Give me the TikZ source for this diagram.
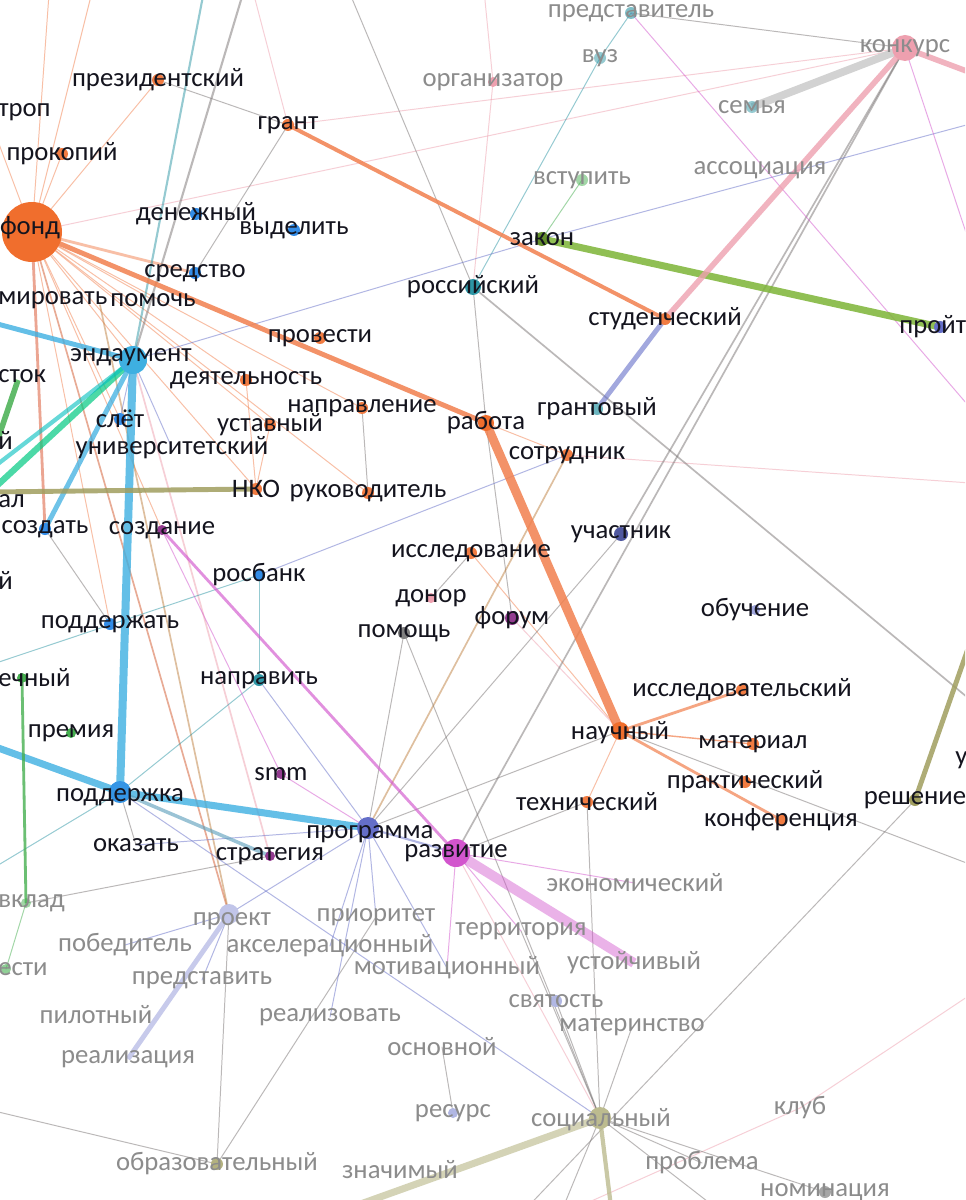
\documentclass[tikz,border=0pt]{standalone}
\usepackage{fontspec}
\setmainfont{Carlito}
\usetikzlibrary{calc}

\definecolor{fondor}{RGB}{240,110,45}
\definecolor{edgeor}{RGB}{242,128,78}
\definecolor{endblue}{RGB}{62,175,225}
\definecolor{tealc}{RGB}{45,150,165}
\definecolor{zgreen}{RGB}{125,180,55}
\definecolor{lgreen}{RGB}{70,175,80}
\definecolor{mag}{RGB}{210,85,205}
\definecolor{konk}{RGB}{238,160,175}
\definecolor{olivec}{RGB}{160,158,95}
\definecolor{progblue}{RGB}{100,110,200}
\definecolor{greyc}{RGB}{120,115,115}
\definecolor{txtgray}{RGB}{140,140,140}
\definecolor{txtdark}{RGB}{20,20,30}

\def\wdot[#1](#2)(#3){\fill[#1] (#2) circle (#3);}

\tikzset{
  word/.style={text=txtdark, font=\fontsize{19}{19}\selectfont, inner sep=0pt},
  faded/.style={word, text=txtgray},
  frag/.style={word, anchor=west},
  lnk/.style={line cap=round, line width=0.7pt, opacity=0.5},
  orl/.style={lnk, draw=edgeor},
  pkl/.style={lnk, draw=konk},
  gyl/.style={lnk, draw=greyc},
  tel/.style={lnk, draw=tealc},
  pul/.style={lnk, draw=progblue},
  mgl/.style={lnk, draw=mag},
}

\begin{document}
\begin{tikzpicture}[x=0.025cm, y=-0.025cm]
\useasboundingbox (0,0) rectangle (965,1200);
\clip (0,0) rectangle (965,1200);
\fill[white] (0,0) rectangle (965,1200);

%%%%% words %%%%%
\coordinate (prezident) at (158,80);
\coordinate (prokopiy) at (62,154);
\coordinate (fond) at (32,232);
\coordinate (grant) at (288,125);
\coordinate (denezhny) at (196,214);
\coordinate (vydelit) at (294,230);
\coordinate (sredstvo) at (195,273);
\coordinate (mirovat) at (100,305);
\coordinate (pomoch) at (153,300);
\coordinate (endaument) at (133,360);
\coordinate (stok) at (18,380);
\coordinate (deyatelnost) at (246,380);
\coordinate (provesti) at (320,338);
\coordinate (napravlenie) at (362,408);
\coordinate (ustavny) at (270,425);
\coordinate (slet) at (120,419);
\coordinate (universitet) at (172,448);
\coordinate (nko) at (256,489);
\coordinate (rukovoditel) at (368,493);
\coordinate (sozdat) at (45,529);
\coordinate (sozdanie) at (162,530);
\coordinate (rosbank) at (259,575);
\coordinate (podderzhat) at (110,624);
\coordinate (echny) at (22,678);
\coordinate (napravit) at (259,680);
\coordinate (premiya) at (71,733);
\coordinate (smm) at (281,774);
\coordinate (podderzhka) at (120,792);
\coordinate (okazat) at (136,845);
\coordinate (strategiya) at (270,856);
\coordinate (programma) at (368,828);
\coordinate (razvitie) at (456,853);
\coordinate (rossiysky) at (473,287);
\coordinate (zakon) at (542,239);
\coordinate (studench) at (665,319);
\coordinate (rabota) at (486,423);
\coordinate (grantovy) at (597,409);
\coordinate (sotrudnik) at (567,455);
\coordinate (issledovanie) at (471,553);
\coordinate (uchastnik) at (621,534);
\coordinate (donor) at (431,598);
\coordinate (forum) at (512,618);
\coordinate (pomosch) at (404,633);
\coordinate (obuchenie) at (755,610);
\coordinate (issledovatel) at (742,690);
\coordinate (nauchny) at (620,731);
\coordinate (material) at (753,744);
\coordinate (praktich) at (745,782);
\coordinate (tehnich) at (587,802);
\coordinate (konferenc) at (781,820);
\coordinate (reshenie) at (915,800);
\coordinate (proyti) at (940,327);
\coordinate (predstavitel) at (631,13);
\coordinate (vuz) at (600,58);
\coordinate (organizator) at (493,82);
\coordinate (konkurs) at (905,48);
\coordinate (semya) at (752,107);
\coordinate (vstupit) at (582,180);
\coordinate (associaciya) at (760,170);
\coordinate (ekonomich) at (635,883);
\coordinate (vklad) at (26,903);
\coordinate (proekt) at (229,914);
\coordinate (prioritet) at (376,917);
\coordinate (territoriya) at (521,931);
\coordinate (pobeditel) at (125,945);
\coordinate (akseler) at (330,946);
\coordinate (esti) at (6,969);
\coordinate (predstavit) at (202,980);
\coordinate (motivac) at (447,968);
\coordinate (ustoychivy) at (634,963);
\coordinate (svyatost) at (556,1001);
\coordinate (materinstvo) at (632,1027);
\coordinate (pilotny) at (96,1015);
\coordinate (realizovat) at (330,1017);
\coordinate (osnovnoy) at (442,1047);
\coordinate (realizaciya) at (128,1059);
\coordinate (resurs) at (453,1113);
\coordinate (socialny) at (600,1118);
\coordinate (klub) at (800,1108);
\coordinate (obrazovat) at (217,1164);
\coordinate (znachimy) at (400,1170);
\coordinate (problema) at (702,1163);
\coordinate (nominaciya) at (825,1192);

% ends beyond the frame
\coordinate (oL1) at (-10,322);
\coordinate (oL2) at (-10,492);
\coordinate (oL3) at (-10,745);
\coordinate (oL4) at (-10,870);
\coordinate (oL5) at (-10,665);
\coordinate (oL6) at (-10,1110);
\coordinate (oL7) at (-10,120);
\coordinate (oL8) at (-10,470);
\coordinate (oL9) at (-10,462);
\coordinate (oT1) at (250,-30);
\coordinate (oT2) at (208,-30);
\coordinate (oT3) at (95,-20);
\coordinate (oT4) at (50,-20);
\coordinate (oT5) at (340,-30);
\coordinate (oT6) at (483,-20);
\coordinate (oT7) at (250,-20);
\coordinate (oR1) at (985,600);
\coordinate (oR2) at (985,712);
\coordinate (oR3) at (985,484);
\coordinate (oR4) at (985,120);
\coordinate (oR5) at (985,78);
\coordinate (oR6) at (985,290);
\coordinate (oR7) at (985,425);
\coordinate (oR8) at (985,985);
\coordinate (oR9) at (985,870);
\coordinate (oB1) at (520,1215);
\coordinate (oB2) at (330,1215);
\coordinate (oB3) at (612,1215);
\coordinate (oB4) at (725,1215);
\coordinate (oB5) at (560,1215);

%%%%% thin links %%%%%
\draw[orl] (fond) -- (prezident);
\draw[orl] (fond) -- (prokopiy);
\draw[orl] (fond) -- (oT3);
\draw[orl] (fond) -- (oT4);
\draw[orl] (fond) -- (oL7);
\draw[orl] (fond) -- (deyatelnost);
\draw[orl] (fond) -- (ustavny);
\draw[orl] (fond) -- (nko);
\draw[orl] (fond) -- (sozdanie);
\draw[orl] (fond) -- (rukovoditel);
\draw[orl] (fond) -- (napravlenie);
\draw[orl] (fond) -- (endaument);
\draw[orl] (fond) -- (pomoch);
\draw[orl] (fond) -- (podderzhat);
\draw[orl] (fond) -- (slet);
\draw[orl, line width=2pt] (fond) -- (sredstvo);
\draw[orl, draw=brown!70!red, line width=1.2pt] (fond) -- (proekt);
\draw[orl, draw=brown!60!red, line width=2pt] (fond) -- (sozdat);
\draw[orl] (rabota) -- (sotrudnik);
\draw[orl] (nauchny) -- (issledovanie);
\draw[orl] (nauchny) -- (tehnich);
\draw[orl] (nko) -- (deyatelnost);
\draw[orl] (nko) -- (ustavny);
\draw[pkl] (fond) -- (konkurs);
\draw[pkl] (grant) -- (konkurs);
\draw[pkl] (grant) -- (oT7);
\draw[pkl] (organizator) -- (oT6);
\draw[pkl] (organizator) -- (rossiysky);
\draw[pkl, line width=1.2pt] (endaument) -- (strategiya);
\draw[pkl] (razvitie) -- (socialny);
\draw[pkl] (nauchny) -- (forum);
\draw[pkl] (sotrudnik) -- (oR3);
\draw[pkl] (klub) -- (oR8);
\draw[pkl] (klub) -- (oB5);
\draw[gyl, line width=1.5pt] (endaument) -- (oT1);
\draw[gyl] (prezident) -- (grant);
\draw[gyl] (grant) -- (sredstvo);
\draw[gyl] (rossiysky) -- (oT5);
\draw[gyl] (rossiysky) -- (rabota);
\draw[gyl, line width=1.2pt] (rossiysky) -- (oR2);
\draw[gyl, line width=1.2pt] (konkurs) -- (uchastnik);
\draw[gyl, line width=1.2pt] (konkurs) -- (razvitie);
\draw[gyl] (predstavitel) -- (konkurs);
\draw[gyl] (uchastnik) -- (programma);
\draw[gyl] (rabota) -- (forum);
\draw[gyl, draw=brown, line width=1.2pt] (programma) -- (sotrudnik);
\draw[gyl, draw=brown, line width=1.2pt] (mirovat) -- (proekt);
\draw[gyl] (pomosch) -- (socialny);
\draw[gyl] (socialny) -- (tehnich);
\draw[gyl] (reshenie) -- (oB1);
\draw[gyl] (nauchny) -- (programma);
\draw[gyl] (nauchny) -- (oR9);
\draw[gyl] (tehnich) -- (razvitie);
\draw[gyl] (proekt) -- (obrazovat);
\draw[gyl] (obrazovat) -- (prioritet);
\draw[gyl] (obrazovat) -- (oL6);
\draw[gyl] (vklad) -- (strategiya);
\draw[gyl] (resurs) -- (osnovnoy);
\draw[gyl] (socialny) -- (problema);
\draw[gyl] (socialny) -- (nominaciya);
\draw[gyl] (socialny) -- (oB4);
\draw[gyl] (socialny) -- (oB5);
\draw[gyl] (socialny) -- (svyatost);
\draw[gyl] (socialny) -- (materinstvo);
\draw[gyl] (socialny) -- (territoriya);
\draw[gyl] (podderzhka) -- (okazat);
\draw[gyl] (sozdat) -- (podderzhat);
\draw[gyl] (rukovoditel) -- (napravlenie);
\draw[gyl] (issledovanie) -- (donor);
\draw[gyl] (pomosch) -- (programma);
\draw[tel] (vuz) -- (rossiysky);
\draw[tel] (predstavitel) -- (vuz);
\draw[tel, line width=1.5pt] (endaument) -- (oT2);
\draw[tel] (podderzhka) -- (napravit);
\draw[tel] (podderzhka) -- (oL4);
\draw[tel] (rosbank) -- (oL5);
\draw[tel] (rosbank) -- (napravit);
\draw[pul] (rosbank) -- (sotrudnik);
\draw[pul] (endaument) -- (zakon);
\draw[pul] (zakon) -- (oR4);
\draw[pul, draw=mag] (predstavitel) -- (oR7);
\draw[pul, draw=mag] (konkurs) -- (oR6);
\draw[pul] (napravit) -- (programma);
\draw[pul] (socialny) -- (podderzhka);
\draw[mgl] (sozdanie) -- (smm);
\draw[mgl] (smm) -- (programma);
\draw[lnk, draw=lgreen] (vstupit) -- (zakon);
\draw[lnk, draw=lgreen] (vklad) -- (esti);
\draw[pul] (programma) -- (proekt);
\draw[pul] (programma) -- (prioritet);
\draw[pul] (programma) -- (akseler);
\draw[pul] (programma) -- (motivac);
\draw[pul] (programma) -- (okazat);
\draw[pul] (programma) -- (realizovat);
\draw[pul] (proekt) -- (pobeditel);
\draw[pul] (proekt) -- (predstavit);
\draw[mgl] (razvitie) -- (territoriya);
\draw[mgl] (razvitie) -- (ekonomich);
\draw[mgl] (razvitie) -- (motivac);
\draw[pul] (endaument) -- (universitet);
\draw[pul] (endaument) -- (slet);

%%%%% heavy links %%%%%
\draw[line width=3.5pt, edgeor, opacity=0.85] (fond) -- (rabota);
\draw[line width=2.8pt, edgeor, opacity=0.85] (grant) -- (studench);
\draw[line width=6.4pt, edgeor, opacity=0.85] (rabota) -- (nauchny);
\draw[line width=2pt, edgeor, opacity=0.7] (nauchny) -- (issledovatel);
\draw[line width=1pt, edgeor, opacity=0.7] (nauchny) -- (material);
\draw[line width=2pt, edgeor, opacity=0.7] (nauchny) -- (konferenc);
\draw[line width=5pt, zgreen, opacity=0.85] (zakon) -- (proyti);
\draw[line width=5.7pt, endblue, opacity=0.8] (endaument) -- (podderzhka);
\draw[line width=5pt, endblue, opacity=0.8] (oL3) -- (podderzhka);
\draw[line width=5pt, endblue, opacity=0.8] (podderzhka) -- (programma);
\draw[line width=2.5pt, endblue!60!gray, opacity=0.6] (podderzhka) -- (strategiya);
\draw[line width=3.5pt, endblue, opacity=0.8] (oL1) -- (endaument);
\draw[line width=4.5pt, teal!60!green!70!cyan, opacity=0.7] (oL2) -- (endaument);
\draw[line width=3pt, teal!50!cyan, opacity=0.6] (oL8) -- (endaument);
\draw[line width=3.5pt, endblue, opacity=0.75] (sozdat) -- (endaument);
\draw[line width=4pt, lgreen, opacity=0.85] (stok) -- (oL9);
\draw[line width=2pt, lgreen, opacity=0.8] (echny) -- (vklad);
\draw[line width=3.5pt, olivec, opacity=0.85] (nko) -- (oL2);
\draw[line width=3.5pt, olivec, opacity=0.85] (reshenie) -- (oR1);
\draw[line width=7pt, mag, opacity=0.45] (razvitie) -- (ustoychivy);
\draw[line width=2pt, mag, opacity=0.65] (sozdanie) -- (razvitie);
\draw[line width=5.5pt, gray!35] (konkurs) -- (semya);
\draw[line width=4pt, konk, opacity=0.8] (konkurs) -- (studench);
\draw[line width=4pt, konk, opacity=0.8] (konkurs) -- (oR5);
\draw[line width=3.5pt, progblue, opacity=0.6] (studench) -- (grantovy);
\draw[line width=5pt, olivec!50, opacity=0.9] (socialny) -- (oB2);
\draw[line width=3pt, olivec!70, opacity=0.8] (socialny) -- (oB3);
\draw[line width=3.5pt, progblue!40, opacity=0.9] (proekt) -- (realizaciya);
\draw[line width=1.5pt, progblue, opacity=0.5] (programma) -- (razvitie);

%%%%% dots %%%%%
\wdot[fondor](fond)(30)
\foreach \n in {prezident,prokopiy,grant,provesti,deyatelnost,napravlenie,ustavny,nko,rukovoditel,sotrudnik,studench,issledovanie,issledovatel,material,praktich,tehnich,konferenc}
  {\wdot[fondor!90](\n)(6)}
\wdot[fondor](rabota)(8)
\wdot[fondor](nauchny)(9)
\foreach \n in {denezhny,vydelit,sredstvo,sozdat,rosbank,podderzhat,slet}
  {\wdot[endblue!80!blue](\n)(6)}
\wdot[tealc](napravit)(6)
\wdot[endblue](endaument)(14)
\wdot[endblue!85!blue](podderzhka)(11)
\foreach \n in {sozdanie,smm,strategiya}
  {\wdot[mag!70!black](\n)(5)}
\wdot[progblue](programma)(11)
\wdot[mag](razvitie)(14)
\wdot[tealc](rossiysky)(8)
\wdot[zgreen!80!black](zakon)(7)
\wdot[tealc!70](grantovy)(6)
\wdot[progblue!80!black](uchastnik)(7)
\wdot[konk](donor)(5)
\wdot[mag!70!black](forum)(7)
\wdot[gray](pomosch)(6)
\wdot[progblue!60](obuchenie)(5)
\wdot[olivec](reshenie)(6)
\wdot[progblue](proyti)(6)
\wdot[lgreen](premiya)(5)
\wdot[lgreen](echny)(5)
\wdot[tealc, opacity=0.6](predstavitel)(6)
\wdot[tealc, opacity=0.5](vuz)(6)
\wdot[konk](organizator)(5)
\wdot[konk](konkurs)(13)
\wdot[tealc, opacity=0.5](semya)(6)
\wdot[lgreen, opacity=0.5](vstupit)(6)
\wdot[lgreen, opacity=0.5](vklad)(5)
\wdot[lgreen, opacity=0.6](esti)(5)
\wdot[progblue!40](proekt)(10)
\wdot[progblue!50](svyatost)(6)
\wdot[progblue!50](resurs)(5)
\wdot[olivec!70](socialny)(11)
\wdot[olivec!80](obrazovat)(6)
\wdot[gray!70](nominaciya)(6)

%%%%% labels %%%%%
\foreach \n/\t in {prezident/президентский, prokopiy/прокопий, grant/грант,
  denezhny/денежный, vydelit/выделить, sredstvo/средство, pomoch/помочь,
  deyatelnost/деятельность, provesti/провести, napravlenie/направление,
  ustavny/уставный, slet/слёт, universitet/университетский, nko/НКО,
  rukovoditel/руководитель, sozdat/создать, sozdanie/создание, rosbank/росбанк,
  podderzhat/поддержать, napravit/направить, premiya/премия, smm/smm,
  okazat/оказать, strategiya/стратегия, razvitie/развитие,
  rossiysky/российский, zakon/закон, studench/студенческий, rabota/работа,
  grantovy/грантовый, sotrudnik/сотрудник, issledovanie/исследование,
  uchastnik/участник, donor/донор, forum/форум, pomosch/помощь,
  obuchenie/обучение, issledovatel/исследовательский, material/материал,
  praktich/практический, tehnich/технический, konferenc/конференция,
  reshenie/решение, proyti/пройти}
  {\node[word] (l-\n) at (\n) {\t};}
\node[word] (l-fond) at (30,228) {фонд};
\node[word] (l-endaument) at (131,357) {эндаумент};
\node[word] (l-podderzhka) at (120,797) {поддержка};
\node[word] (l-programma) at (370,834) {программа};
\node[word] (l-nauchny) at (620,733) {научный};

\foreach \n/\t in {predstavitel/представитель, vuz/вуз, organizator/организатор,
  konkurs/конкурс, semya/семья, vstupit/вступить, associaciya/ассоциация,
  ekonomich/экономический, prioritet/приоритет, territoriya/территория,
  pobeditel/победитель, akseler/акселерационный, predstavit/представить,
  motivac/мотивационный, ustoychivy/устойчивый, svyatost/святость,
  materinstvo/материнство, pilotny/пилотный, realizovat/реализовать,
  osnovnoy/основной, realizaciya/реализация, resurs/ресурс,
  klub/клуб, obrazovat/образовательный, znachimy/значимый,
  problema/проблема, nominaciya/номинация}
  {\node[faded] (l-\n) at (\n) {\t};}
\node[faded] (l-proekt) at (232,921) {проект};
\node[faded] (l-socialny) at (601,1120) {социальный};

% cut words at the frame
\node[frag] (f-trop) at (-2,112) {троп};
\node[frag] (f-mirovat) at (-2,300) {мировать};
\node[frag] (f-stok) at (-2,376) {сток};
\node[frag] (f-y1) at (-2,440) {й};
\node[frag] (f-al) at (-2,501) {ал};
\node[frag] (f-y2) at (-2,580) {й};
\node[frag] (f-echny) at (-2,678) {ечный};
\node[frag, text=txtgray] (f-vklad) at (-2,903) {вклад};
\node[frag, text=txtgray] (f-esti) at (-2,969) {ести};
\node[frag] (f-u) at (955,760) {у};

\end{tikzpicture}
\end{document}
